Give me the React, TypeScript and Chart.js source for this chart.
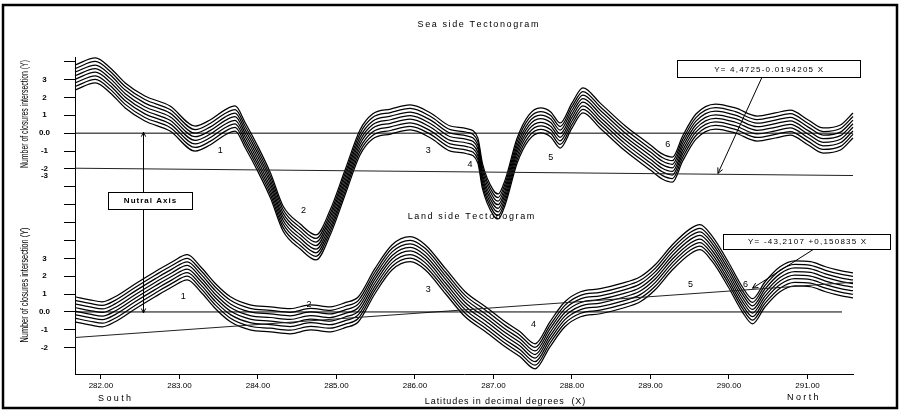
import React, { useEffect, useRef } from "react";
import { Chart, registerables } from "chart.js";

Chart.register(...registerables);

// Latitude axis (X)
const LAT_MIN = 281.67;
const LAT_MAX = 291.58;
const LAT_TICKS = [282, 283, 284, 285, 286, 287, 288, 289, 290, 291];

// The sea side panel sits 10 units above the land side panel on the shared Y scale
const SEA_SHIFT = 10;
const Y_MIN = -3.47;
const Y_MAX = 14.26;
const Y_TICKS = [-2, -1, 0, 1, 2, 3, 4, 5, 6, 7, 7.6, 8, 9, 10, 11, 12, 13, 14];
const Y_TICK_TEXT: Record<string, string> = {
  "13": "3", "12": "2", "11": "1", "10": "0.0", "9": "-1", "8": "-2", "7.6": "-3",
  "3": "3", "2": "2", "1": "1", "0": "0.0", "-1": "-1", "-2": "-2",
};

// Sea side tectonogram, centre line of the bundle
const SEA_X = [
  281.67, 281.93, 282.12, 282.31, 282.56, 282.88, 283.2, 283.39, 283.58, 283.71,
  283.84, 283.99, 284.16, 284.32, 284.54, 284.74, 284.92, 285.11, 285.3, 285.46,
  285.69, 285.94, 286.2, 286.45, 286.66, 286.8, 286.86, 287.0, 287.06, 287.15,
  287.3, 287.45, 287.6, 287.73, 287.85, 288.0, 288.14, 288.36, 288.68, 289.0,
  289.15, 289.28, 289.41, 289.58, 289.83, 290.08, 290.36, 290.59, 290.78, 291.01,
  291.2, 291.42, 291.58,
];
const SEA_Y = [
  3.11, 3.51, 2.95, 2.11, 1.38, 0.82, -0.3, 0.04, 0.6, 0.82,
  -0.13, -1.36, -2.93, -4.77, -5.78, -6.39, -5.0, -2.76, -0.52, 0.37,
  0.65, 0.88, 0.43, -0.3, -0.45, -0.95, -2.4, -3.9, -4.1, -3.3,
  -1.0, 0.31, 0.71, 0.49, -0.13, 0.98, 1.83, 0.98, -0.3, -1.36,
  -1.86, -2.04, -0.86, 0.37, 0.93, 0.71, 0.26, 0.43, 0.59, 0.04,
  -0.41, -0.24, 0.43,
];

// Land side tectonogram, centre line of the bundle
const LAND_X = [
  281.67, 281.86, 282.02, 282.18, 282.44, 282.69, 282.91, 283.1, 283.27, 283.46,
  283.65, 283.9, 284.16, 284.41, 284.67, 284.92, 285.11, 285.28, 285.49, 285.71,
  285.94, 286.13, 286.39, 286.64, 286.9, 287.15, 287.34, 287.53, 287.72, 287.91,
  288.11, 288.36, 288.62, 288.87, 289.06, 289.28, 289.51, 289.63, 289.79, 289.99,
  290.17, 290.3, 290.46, 290.65, 290.84, 291.04, 291.23, 291.42, 291.58,
];
const LAND_Y = [
  0.15, -0.02, -0.13, 0.15, 0.88, 1.55, 2.11, 2.5, 1.83, 0.88,
  0.15, -0.3, -0.41, -0.52, -0.3, -0.41, -0.18, 0.15, 1.72, 3.06,
  3.51, 3.06, 1.72, 0.43, -0.41, -1.25, -1.81, -2.48, -1.25, -0.13,
  0.43, 0.6, 0.88, 1.27, 1.94, 3.06, 3.96, 4.18, 3.51, 2.11,
  0.71, 0.04, 0.99, 1.83, 2.16, 2.11, 1.83, 1.61, 1.49,
];

// Parallel closure lines around each centre line
const BUNDLE_OFFSETS = [-0.7, -0.5, -0.3, -0.1, 0.1, 0.3, 0.5, 0.7];

// Trend lines (start, end) and zero lines
const SEA_TREND_X = [281.67, 291.58];
const SEA_TREND_Y = [-1.96, -2.37];
const LAND_TREND_X = [281.67, 291.58];
const LAND_TREND_Y = [-1.43, 1.66];
const SEA_ZERO_END = 291.58;
const LAND_ZERO_END = 291.44;

// Section numbers
const SEA_SECTIONS = [
  { n: "1", x: 283.52, y: -0.97 },
  { n: "2", x: 284.58, y: -4.32 },
  { n: "3", x: 286.17, y: -0.97 },
  { n: "4", x: 286.7, y: -1.75 },
  { n: "5", x: 287.73, y: -1.36 },
  { n: "6", x: 289.22, y: -0.64 },
];
const LAND_SECTIONS = [
  { n: "1", x: 283.05, y: 0.88 },
  { n: "2", x: 284.65, y: 0.43 },
  { n: "3", x: 286.17, y: 1.27 },
  { n: "4", x: 287.51, y: -0.69 },
  { n: "5", x: 289.51, y: 1.55 },
  { n: "6", x: 290.21, y: 1.55 },
];

const SEA_EQUATION = "Y= 4,4725-0.0194205 X";
const LAND_EQUATION = "Y= -43,2107 +0,150835 X";

const FONT = "'Liberation Sans', Arial, sans-serif";

function bundle(xs: number[], ys: number[], shift: number) {
  return BUNDLE_OFFSETS.map((off) => ({
    data: xs.map((x, i) => ({ x, y: ys[i] + off + shift })),
    borderColor: "#000",
    borderWidth: 1.25,
    pointRadius: 0,
    showLine: true,
    cubicInterpolationMode: "monotone" as const,
    clip: 8,
  }));
}

function straight(xs: number[], ys: number[], shift: number, color: string) {
  return {
    data: xs.map((x, i) => ({ x, y: ys[i] + shift })),
    borderColor: color,
    borderWidth: 1,
    pointRadius: 0,
    showLine: true,
    tension: 0,
    clip: 8,
  };
}

function spaced(ctx: CanvasRenderingContext2D, text: string, x: number, y: number, gap: number, align: "left" | "center") {
  const widths = Array.from(text).map((c) => ctx.measureText(c).width);
  const total = widths.reduce((a, b) => a + b, 0) + gap * (text.length - 1);
  let cx = align === "center" ? x - total / 2 : x;
  ctx.textAlign = "left";
  Array.from(text).forEach((c, i) => {
    ctx.fillText(c, cx, y);
    cx += widths[i] + gap;
  });
}

function arrowHead(ctx: CanvasRenderingContext2D, fx: number, fy: number, tx: number, ty: number, size: number) {
  const a = Math.atan2(ty - fy, tx - fx);
  ctx.beginPath();
  ctx.moveTo(tx - size * Math.cos(a - 0.45), ty - size * Math.sin(a - 0.45));
  ctx.lineTo(tx, ty);
  ctx.lineTo(tx - size * Math.cos(a + 0.45), ty - size * Math.sin(a + 0.45));
  ctx.stroke();
}

const decorations = {
  id: "tectonogramDecorations",
  beforeDraw(chart: any) {
    const { ctx } = chart;
    ctx.save();
    ctx.fillStyle = "#fff";
    ctx.fillRect(0, 0, chart.width, chart.height);
    ctx.restore();
  },
  afterDraw(chart: any) {
    const { ctx } = chart;
    const xs = chart.scales.x;
    const ys = chart.scales.y;
    const px = (v: number) => xs.getPixelForValue(v);
    const py = (v: number) => ys.getPixelForValue(v);

    ctx.save();
    ctx.fillStyle = "#000";
    ctx.strokeStyle = "#000";
    ctx.textBaseline = "middle";

    // frame
    ctx.lineWidth = 2.5;
    ctx.strokeRect(3, 5, 894, 403);

    // titles
    ctx.font = `9px ${FONT}`;
    spaced(ctx, "Sea side Tectonogram", 478, 25, 1.6, "center");
    spaced(ctx, "Land side Tectonogram", 471, 217, 1.6, "center");

    // bottom labels
    spaced(ctx, "South", 98, 399, 2.4, "left");
    spaced(ctx, "North", 787, 398, 2.4, "left");
    spaced(ctx, "Latitudes in decimal degrees  (X)", 505, 402, 0.9, "center");

    // y titles, condensed
    const yTitle = "Number of closures intersection (Y)";
    ctx.font = `10px ${FONT}`;
    const w = ctx.measureText(yTitle).width;
    [
      { cy: 114, len: 108 },
      { cy: 285, len: 115 },
    ].forEach(({ cy, len }) => {
      ctx.save();
      ctx.translate(25, cy);
      ctx.rotate(-Math.PI / 2);
      ctx.scale(len / w, 1);
      ctx.textAlign = "center";
      ctx.fillText(yTitle, 0, 0);
      ctx.restore();
    });

    // section numbers
    ctx.font = `9px ${FONT}`;
    ctx.textAlign = "center";
    SEA_SECTIONS.forEach((s) => ctx.fillText(s.n, px(s.x), py(s.y + SEA_SHIFT)));
    LAND_SECTIONS.forEach((s) => ctx.fillText(s.n, px(s.x), py(s.y)));

    // neutral axis double arrow
    ctx.lineWidth = 1;
    const nx = Math.round(px(282.54)) + 0.5;
    const nTop = py(SEA_SHIFT) - 1;
    const nBot = py(0) + 1;
    ctx.beginPath();
    ctx.moveTo(nx, nTop);
    ctx.lineTo(nx, nBot);
    ctx.stroke();
    arrowHead(ctx, nx, nTop + 10, nx, nTop, 5);
    arrowHead(ctx, nx, nBot - 10, nx, nBot, 5);
    const bx1 = px(282.09), bx2 = px(283.16), by1 = py(6.7), by2 = py(5.75);
    ctx.fillStyle = "#fff";
    ctx.fillRect(bx1, by1, bx2 - bx1, by2 - by1);
    ctx.strokeRect(Math.round(bx1) + 0.5, Math.round(by1) + 0.5, Math.round(bx2 - bx1), Math.round(by2 - by1));
    ctx.fillStyle = "#000";
    ctx.font = `bold 8px ${FONT}`;
    spaced(ctx, "Nutral Axis", (bx1 + bx2) / 2, (by1 + by2) / 2 + 0.5, 1, "center");

    // equation boxes with pointers
    const equation = (text: string, x1: number, x2: number, y1: number, y2: number, fx: number, fy: number, tx: number, ty: number) => {
      const l = px(x1), r = px(x2), t = py(y1), b = py(y2);
      ctx.beginPath();
      ctx.moveTo(px(fx), py(fy));
      ctx.lineTo(px(tx), py(ty));
      ctx.stroke();
      arrowHead(ctx, px(fx), py(fy), px(tx), py(ty), 6);
      ctx.fillStyle = "#fff";
      ctx.fillRect(l, t, r - l, b - t);
      ctx.lineWidth = 1;
      ctx.strokeRect(Math.round(l) + 0.5, Math.round(t) + 0.5, Math.round(r - l), Math.round(b - t));
      ctx.fillStyle = "#000";
      ctx.font = `8px ${FONT}`;
      spaced(ctx, text, (l + r) / 2, (t + b) / 2 + 0.5, 1.2, "center");
    };
    equation(SEA_EQUATION, 289.34, 291.67, 14.07, 13.12, 290.42, 13.12, 289.86, 7.75);
    equation(LAND_EQUATION, 289.93, 292.06, 4.35, 3.51, 291.08, 3.51, 290.3, 1.33);

    ctx.restore();
  },
};

export default function App() {
  const canvasRef = useRef<HTMLCanvasElement>(null);

  useEffect(() => {
    document.body.style.margin = "0";
    const canvas = canvasRef.current;
    if (!canvas) return;

    const datasets: any[] = [
      straight([LAT_MIN, SEA_ZERO_END], [0, 0], SEA_SHIFT, "#000"),
      straight([LAT_MIN, LAND_ZERO_END], [0, 0], 0, "#000"),
      straight(SEA_TREND_X, SEA_TREND_Y, SEA_SHIFT, "#222"),
      straight(LAND_TREND_X, LAND_TREND_Y, 0, "#222"),
      ...bundle(SEA_X, SEA_Y, SEA_SHIFT),
      ...bundle(LAND_X, LAND_Y, 0),
    ];

    const chart = new Chart(canvas, {
      type: "scatter",
      data: { datasets },
      plugins: [decorations],
      options: {
        responsive: false,
        animation: false,
        events: [],
        layout: { padding: { left: 15, right: 51, top: 57, bottom: 20 } },
        plugins: { legend: { display: false }, tooltip: { enabled: false } },
        scales: {
          x: {
            type: "linear",
            min: LAT_MIN,
            max: LAT_MAX,
            afterBuildTicks: (s: any) => {
              s.ticks = LAT_TICKS.map((v) => ({ value: v }));
            },
            afterFit: (s: any) => {
              s.height = 20;
            },
            ticks: {
              autoSkip: false,
              maxRotation: 0,
              padding: 2,
              color: "#000",
              font: { family: FONT, size: 8 },
              callback: (v: any) => Number(v).toFixed(2),
            },
            grid: { drawOnChartArea: false, tickLength: 5, color: "#000", lineWidth: 1 },
            border: { color: "#000", width: 1 },
          },
          y: {
            type: "linear",
            min: Y_MIN,
            max: Y_MAX,
            afterBuildTicks: (s: any) => {
              s.ticks = Y_TICKS.map((v) => ({ value: v }));
            },
            afterFit: (s: any) => {
              s.width = 60;
            },
            ticks: {
              autoSkip: false,
              crossAlign: "center",
              padding: 14,
              color: "#000",
              font: { family: FONT, size: 8, weight: "bold" },
              callback: (v: any) => Y_TICK_TEXT[String(v)] ?? "",
            },
            grid: {
              drawOnChartArea: false,
              tickLength: 11,
              lineWidth: 1,
              color: (c: any) => (c.tick && c.tick.value === 7.6 ? "rgba(0,0,0,0)" : "#000"),
            },
            border: { color: "#000", width: 1 },
          },
        },
      },
    } as any);

    return () => chart.destroy();
  }, []);

  return (
    <div style={{ width: 904, height: 414 }}>
      <canvas ref={canvasRef} width={904} height={414} />
    </div>
  );
}
